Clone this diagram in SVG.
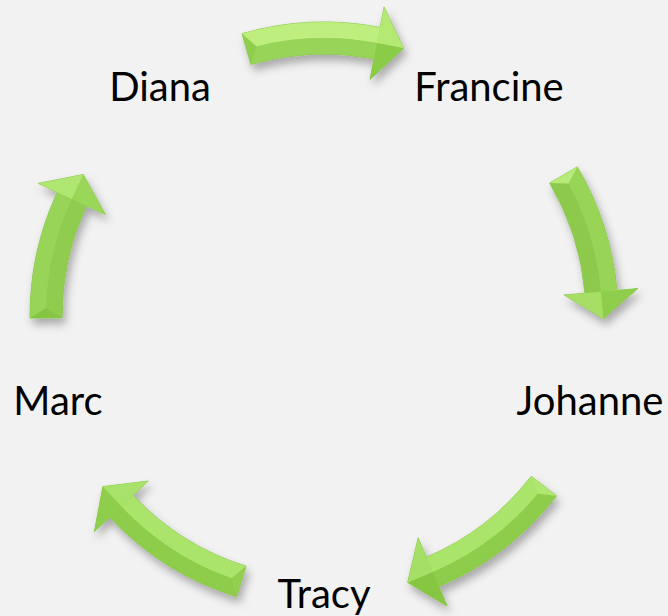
<svg xmlns="http://www.w3.org/2000/svg" width="668" height="616" viewBox="0 0 668 616">
<defs>
<filter id="sh" x="-30%" y="-30%" width="160%" height="160%">
<feDropShadow dx="3" dy="6" stdDeviation="4" flood-color="#000" flood-opacity="0.3"/>
</filter>
</defs>
<style>
.lbl{font-family:Lato,"Open Sans","Liberation Sans",sans-serif;font-size:40px;fill:#000;text-anchor:middle}
.out{fill:#98d557;stroke:#84c244;stroke-width:0.8;filter:url(#sh)}
.f{stroke:none}
</style>
<rect width="668" height="616" fill="#f2f2f2"/>
<g id="connectors">
<g id="arrow-diana-francine">
<path class="out" d="M242.0,33.7 A294,294 0 0 1 380.1,27.4 L384.1,6.8 L403.5,48.3 L370.0,79.4 L374.0,58.8 A262,262 0 0 0 250.9,64.4 Z"/>
<path class="f" fill="#bdee7e" d="M242.0,33.7 A294,294 0 0 1 380.1,27.4 L377.0,43.1 A278,278 0 0 0 256.3,46.4 Z"/>
<path class="f" fill="#97d457" d="M250.9,64.4 A262,262 0 0 1 374.0,58.8 L377.0,43.1 A278,278 0 0 0 256.3,46.4 Z"/>
<path class="f" fill="#8fcd4e" d="M242.0,33.7 L250.9,64.4 L256.3,46.4 Z"/>
<path class="f" fill="#b4ea74" d="M377.0,43.1 L384.1,6.8 L403.5,48.3 Z"/>
<path class="f" fill="#8acb48" d="M377.0,43.1 L370.0,79.4 L403.5,48.3 Z"/>
</g>
<g id="arrow-francine-johanne">
<path class="out" d="M577.3,166.8 A294,294 0 0 1 616.9,290.4 L637.8,288.5 L603.3,318.7 L564.1,295.0 L585.0,293.2 A262,262 0 0 0 549.7,183.0 Z"/>
<path class="f" fill="#98d557" d="M577.3,166.8 A294,294 0 0 1 616.9,290.4 L600.9,291.8 A278,278 0 0 0 568.4,183.6 Z"/>
<path class="f" fill="#8dca4b" d="M549.7,183.0 A262,262 0 0 1 585.0,293.2 L600.9,291.8 A278,278 0 0 0 568.4,183.6 Z"/>
<path class="f" fill="#b8ea7a" d="M577.3,166.8 L549.7,183.0 L568.4,183.6 Z"/>
<path class="f" fill="#8fcd4d" d="M600.9,291.8 L637.8,288.5 L603.3,318.7 Z"/>
<path class="f" fill="#a6de66" d="M600.9,291.8 L564.1,295.0 L603.3,318.7 Z"/>
</g>
<g id="arrow-johanne-tracy">
<path class="out" d="M556.6,495.8 A294,294 0 0 1 438.9,586.6 L447.1,606.0 L407.7,582.4 L418.2,537.8 L426.4,557.2 A262,262 0 0 0 531.3,476.2 Z"/>
<path class="f" fill="#8ecc4c" d="M556.6,495.8 A294,294 0 0 1 438.9,586.6 L432.6,571.9 A278,278 0 0 0 537.7,493.8 Z"/>
<path class="f" fill="#aae46b" d="M531.3,476.2 A262,262 0 0 1 426.4,557.2 L432.6,571.9 A278,278 0 0 0 537.7,493.8 Z"/>
<path class="f" fill="#b0e772" d="M556.6,495.8 L531.3,476.2 L537.7,493.8 Z"/>
<path class="f" fill="#86c643" d="M432.6,571.9 L447.1,606.0 L407.7,582.4 Z"/>
<path class="f" fill="#a5df66" d="M432.6,571.9 L418.2,537.8 L407.7,582.4 Z"/>
</g>
<g id="arrow-tracy-marc">
<path class="out" d="M236.6,596.7 A294,294 0 0 1 109.7,517.2 L94.4,531.6 L102.8,486.6 L148.3,481.0 L133.0,495.3 A262,262 0 0 0 246.1,566.2 Z"/>
<path class="f" fill="#8ecc4c" d="M236.6,596.7 A294,294 0 0 1 109.7,517.2 L121.3,506.3 A278,278 0 0 0 231.8,578.3 Z"/>
<path class="f" fill="#aae46b" d="M246.1,566.2 A262,262 0 0 1 133.0,495.3 L121.3,506.3 A278,278 0 0 0 231.8,578.3 Z"/>
<path class="f" fill="#92cf50" d="M236.6,596.7 L246.1,566.2 L231.8,578.3 Z"/>
<path class="f" fill="#8fce4d" d="M121.3,506.3 L94.4,531.6 L102.8,486.6 Z"/>
<path class="f" fill="#a8e26a" d="M121.3,506.3 L148.3,481.0 L102.8,486.6 Z"/>
</g>
<g id="arrow-marc-diana">
<path class="out" d="M30.0,318.1 A294,294 0 0 1 57.3,192.2 L38.3,183.4 L83.3,174.5 L105.4,214.5 L86.4,205.7 A262,262 0 0 0 62.0,317.8 Z"/>
<path class="f" fill="#97d457" d="M30.0,318.1 A294,294 0 0 1 57.3,192.2 L71.9,199.0 A278,278 0 0 0 46.1,307.9 Z"/>
<path class="f" fill="#90cd4f" d="M62.0,317.8 A262,262 0 0 1 86.4,205.7 L71.9,199.0 A278,278 0 0 0 46.1,307.9 Z"/>
<path class="f" fill="#85c543" d="M30.0,318.1 L62.0,317.8 L46.1,307.9 Z"/>
<path class="f" fill="#b0e772" d="M71.9,199.0 L38.3,183.4 L83.3,174.5 Z"/>
<path class="f" fill="#9ad758" d="M71.9,199.0 L105.4,214.5 L83.3,174.5 Z"/>
</g>
</g>
<g id="node-diana"><text class="lbl" x="160" y="101">Diana</text></g>
<g id="node-francine"><text class="lbl" x="489" y="101">Francine</text></g>
<g id="node-johanne"><text class="lbl" x="590" y="415">Johanne</text></g>
<g id="node-tracy"><text class="lbl" x="324" y="608">Tracy</text></g>
<g id="node-marc"><text class="lbl" x="58" y="415">Marc</text></g>
</svg>
